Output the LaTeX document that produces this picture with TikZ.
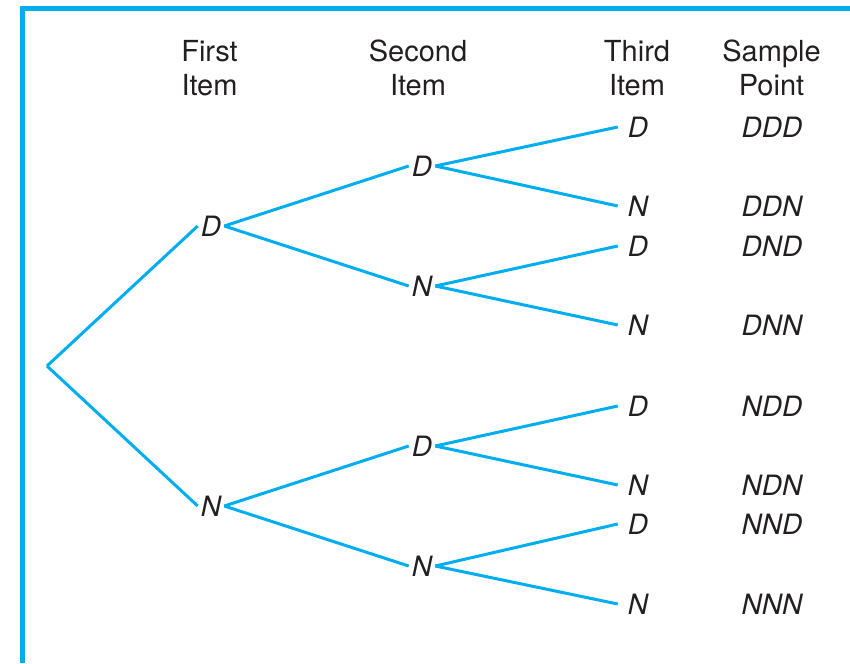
\documentclass[tikz,border=0pt]{standalone}
\usepackage{fontspec}
\setmainfont{TeX Gyre Heros}
\definecolor{treecyan}{RGB}{0,174,239}
\definecolor{inkgray}{RGB}{35,31,32}
\begin{document}
\begin{tikzpicture}[x=1pt,y=-1pt,
  branch/.style={draw=treecyan, line width=3pt},
  outcome/.style={font=\fontsize{28}{34}\selectfont\itshape, text=inkgray, inner xsep=3pt, inner ysep=0pt},
  leaf/.style={outcome, inner xsep=10pt},
  sample/.style={font=\fontsize{28}{34}\selectfont\itshape, text=inkgray},
  header/.style={font=\fontsize{29}{34.5}\selectfont, text=inkgray, align=center},
]
\useasboundingbox (0,0) rectangle (850,663);
% frame
\draw[treecyan, line width=5pt] (22,663) -- (22,8.5) -- (850,8.5);

% column headings
\node[header] (h1) at (209.5,68) {First\\Item};
\node[header] (h2) at (418,68) {Second\\Item};
\node[header] (h3) at (637,68) {Third\\Item};
\node[header] (h4) at (771.5,68) {Sample\\Point};

% tree
\coordinate (root) at (47,366);
\node[outcome] (a) at (211,226) {D};
\node[outcome] (b) at (211,506) {N};

\node[outcome] (aD) at (422,166) {D};
\node[outcome] (aN) at (422,286) {N};
\node[outcome] (bD) at (422,446) {D};
\node[outcome] (bN) at (422,566) {N};

\node[leaf] (aDD) at (638,127) {D};
\node[leaf] (aDN) at (638,206) {N};
\node[leaf] (aND) at (638,246) {D};
\node[leaf] (aNN) at (638,325) {N};
\node[leaf] (bDD) at (638,406) {D};
\node[leaf] (bDN) at (638,485) {N};
\node[leaf] (bND) at (638,524) {D};
\node[leaf] (bNN) at (638,604) {N};

% sample points
\node[sample] (s1) at (772,127) {DDD};
\node[sample] (s2) at (772,206) {DDN};
\node[sample] (s3) at (772,246) {DND};
\node[sample] (s4) at (772,325) {DNN};
\node[sample] (s5) at (772,406) {NDD};
\node[sample] (s6) at (772,485) {NDN};
\node[sample] (s7) at (772,524) {NND};
\node[sample] (s8) at (772,604) {NNN};

% branches
\draw[branch] (root) -- (a.west);
\draw[branch] (root) -- (b.west);
\foreach \p/\q in {a/aD, a/aN, b/bD, b/bN,
                   aD/aDD, aD/aDN, aN/aND, aN/aNN,
                   bD/bDD, bD/bDN, bN/bND, bN/bNN}
  \draw[branch] (\p.east) -- (\q.west);
\end{tikzpicture}
\end{document}
